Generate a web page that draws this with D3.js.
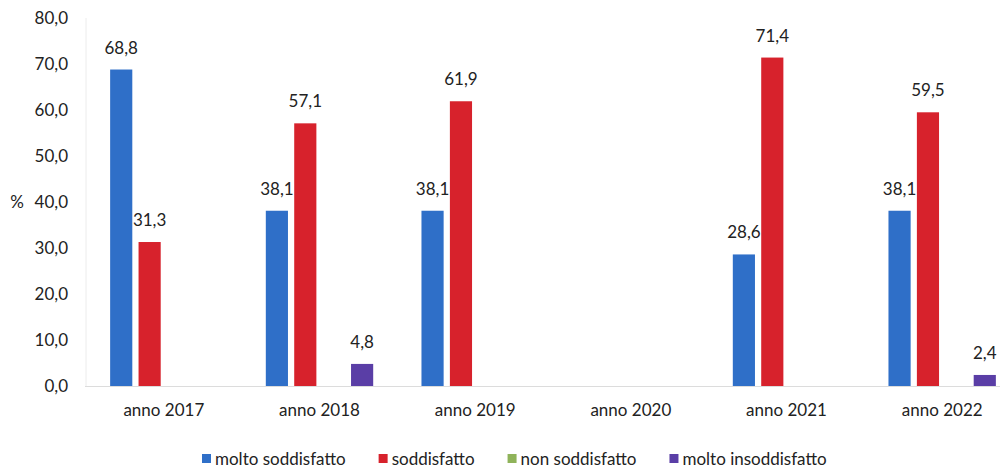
<!DOCTYPE html>
<html>
<head>
<meta charset="utf-8">
<script src="https://cdn.jsdelivr.net/npm/d3@7"></script>
<style>
  html, body { margin: 0; padding: 0; background: #ffffff; }
  svg { display: block; font-family: Lato, "Open Sans", sans-serif; }
</style>
</head>
<body>
<svg id="chart" width="1000" height="471"></svg>
<script>
// Survey satisfaction by year (percent)
const years = ["anno 2017", "anno 2018", "anno 2019", "anno 2020", "anno 2021", "anno 2022"];
const seriesNames = ["molto soddisfatto", "soddisfatto", "non soddisfatto", "molto insoddisfatto"];
const moltoSoddisfatto   = [68.8, 38.1, 38.1, null, 28.6, 38.1];
const soddisfatto        = [31.3, 57.1, 61.9, null, 71.4, 59.5];
const nonSoddisfatto     = [null, null, null, null, null, null];
const moltoInsoddisfatto = [null, 4.8, null, null, null, 2.4];
const yTicks = [0, 10, 20, 30, 40, 50, 60, 70, 80];
const colors = ["#2f6fc8", "#d7222c", "#8fb35a", "#5a3ea6"];

const seriesValues = [moltoSoddisfatto, soddisfatto, nonSoddisfatto, moltoInsoddisfatto];

const svg = d3.select("#chart");
const plot = { left: 86, right: 1020, top: 18, bottom: 386 };
const fmt = v => d3.format(".1f")(v).replace(".", ",");

const x0 = d3.scaleBand().domain(years).range([plot.left, plot.right])
  .paddingInner(0.27).paddingOuter(0.135);
const x1 = d3.scaleBand().domain(seriesNames).range([0, x0.bandwidth()])
  .paddingInner(0.22).paddingOuter(0.11);
const y = d3.scaleLinear().domain([0, 80]).range([plot.bottom, plot.top]);

// faint value axis line
svg.append("line")
  .attr("x1", plot.left).attr("x2", plot.left)
  .attr("y1", y(80)).attr("y2", y(0))
  .attr("stroke", "#ececec").attr("stroke-width", 1);

// y axis tick labels
const yAxis = d3.axisLeft(y).tickValues(yTicks).tickFormat(fmt).tickSize(0).tickPadding(18);
const yg = svg.append("g").attr("transform", `translate(${plot.left},0)`).call(yAxis);
yg.select(".domain").remove();
yg.selectAll("text").attr("font-size", 17).attr("fill", "#222").attr("font-family", "Lato, sans-serif");

// unit label
svg.append("text")
  .attr("x", 17).attr("y", y(40)).attr("dy", "0.35em")
  .attr("text-anchor", "middle").attr("font-size", 17).attr("fill", "#222")
  .text("%");

// bars
const groups = svg.append("g").selectAll("g")
  .data(years)
  .join("g")
  .attr("transform", d => `translate(${x0(d)},0)`);

const barData = (yr, i) => seriesNames.map((s, k) => ({ s, k, v: seriesValues[k][i] }))
  .filter(d => d.v != null);

groups.selectAll("rect")
  .data((yr, i) => barData(yr, i))
  .join("rect")
  .attr("x", d => x1(d.s))
  .attr("width", x1.bandwidth())
  .attr("y", d => y(d.v))
  .attr("height", d => y(0) - y(d.v))
  .attr("fill", d => colors[d.k]);

groups.selectAll("text.val")
  .data((yr, i) => barData(yr, i))
  .join("text")
  .attr("class", "val")
  .attr("x", d => x1(d.s) + x1.bandwidth() / 2)
  .attr("y", d => y(d.v) - 16)
  .attr("text-anchor", "middle")
  .attr("font-size", 17)
  .attr("fill", "#222")
  .text(d => fmt(d.v));

// category axis baseline
svg.append("line")
  .attr("x1", plot.left - 1).attr("x2", 1000)
  .attr("y1", y(0) + 0.5).attr("y2", y(0) + 0.5)
  .attr("stroke", "#dcdcdc").attr("stroke-width", 1);

// category labels
const xAxis = d3.axisBottom(x0).tickSize(0).tickPadding(18);
const xg = svg.append("g").attr("transform", `translate(0,${y(0)})`).call(xAxis);
xg.select(".domain").remove();
xg.selectAll("text").attr("font-size", 17).attr("fill", "#222").attr("font-family", "Lato, sans-serif");

// legend
const legend = svg.append("g").attr("transform", "translate(202,459)");
let lx = 0;
seriesNames.forEach((name, k) => {
  const item = legend.append("g").attr("transform", `translate(${lx},0)`);
  item.append("rect").attr("x", 0).attr("y", -5).attr("width", 9).attr("height", 9).attr("fill", colors[k]);
  const t = item.append("text").attr("x", 13).attr("y", 0).attr("dy", "0.35em")
    .attr("font-size", 17).attr("fill", "#222").text(name);
  lx += 13 + t.node().getComputedTextLength() + 33;
});
</script>
</body>
</html>
